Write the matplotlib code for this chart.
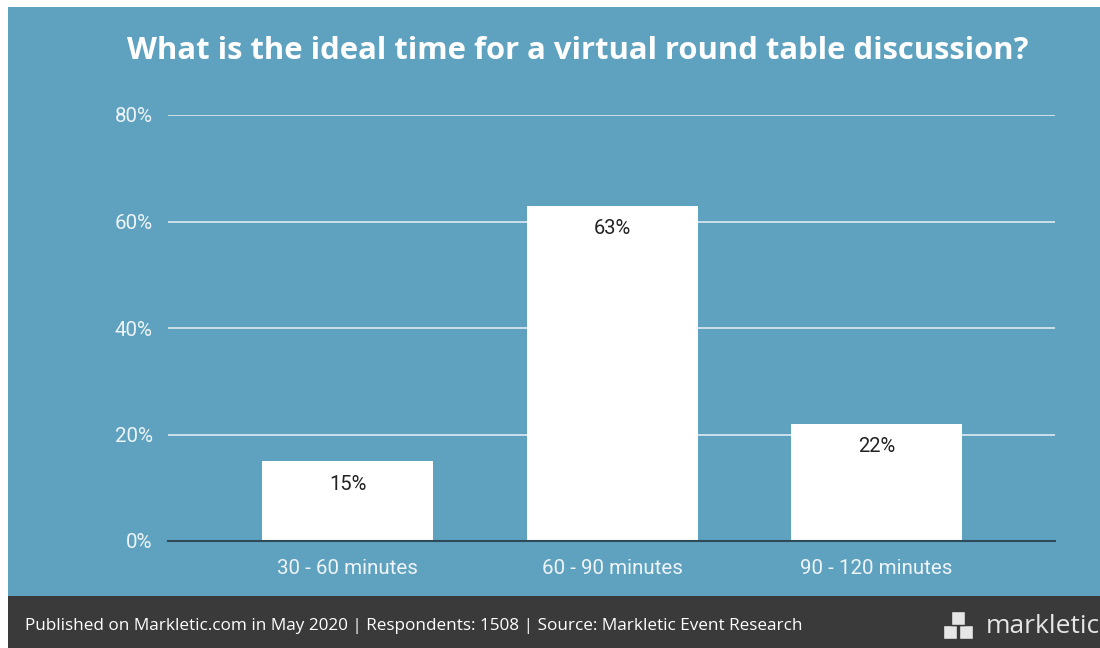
import matplotlib.pyplot as plt
from matplotlib.patches import Rectangle

# chart data
categories = ["30 - 60 minutes", "60 - 90 minutes", "90 - 120 minutes"]
values = [15, 63, 22]
yticks = [0, 20, 40, 60, 80]

title = "What is the ideal time for a virtual round table discussion?"
footer = "Published on Markletic.com in May 2020 | Respondents: 1508 | Source: Markletic Event Research"

bg_blue = "#5fa2c0"
footer_col = "#3a3a3a"

W, H = 1100, 648
fig = plt.figure(figsize=(11, 6.48), dpi=100)
fig.patch.set_facecolor("white")

# blue panel
fig.patches.append(Rectangle((8 / W, 52 / H), 1 - 8 / W, (641 - 52) / H,
                             transform=fig.transFigure, facecolor=bg_blue,
                             edgecolor="none", zorder=-1))

ax = fig.add_axes([168 / W, (H - 541) / H, (1055 - 168) / W, (541 - 115) / H], zorder=2)
ax.set_facecolor("none")
x = range(len(categories))
ax.bar(x, values, width=0.647, color="white", zorder=3)
for i, v in enumerate(values):
    ax.text(i, v - 4.3, f"{v}%", ha="center", va="center", fontsize=14.5,
            color="#222222", family="Roboto", zorder=4)

ax.set_xlim(-0.68, 2.675)
ax.set_ylim(0, 80)
ax.set_yticks(yticks)
ax.set_yticklabels([f"{t}%" for t in yticks])
ax.set_xticks(list(x))
ax.set_xticklabels(categories)
ax.yaxis.grid(True, color="#dce9ef", linewidth=1.2, zorder=0)
ax.set_axisbelow(True)
for s in ["top", "right", "left"]:
    ax.spines[s].set_visible(False)
ax.spines["bottom"].set_color("#2e4a57")
ax.spines["bottom"].set_linewidth(1.5)
ax.spines["bottom"].set_zorder(5)
ax.tick_params(length=0, labelsize=14.8, labelcolor="#eef4f7")
ax.tick_params(axis="y", pad=11)
ax.tick_params(axis="x", pad=13)
for lbl in ax.get_xticklabels() + ax.get_yticklabels():
    lbl.set_family("Roboto")

fig.text(578 / W, 1 - 51 / H, title, ha="center", va="center", fontsize=22.3,
         fontweight="bold", color="white", family="Open Sans")

# footer bar drawn above the axes so it clips the tick labels like the original
fax = fig.add_axes([8 / W, 0, 1 - 8 / W, 52 / H], zorder=10)
fax.set_facecolor(footer_col)
fax.set_xticks([])
fax.set_yticks([])
for s in fax.spines.values():
    s.set_visible(False)
fax.text(17 / (W - 8), 0.42, footer, ha="left", va="center", fontsize=12.3,
         color="white", family="Open Sans", transform=fax.transAxes)
fax.text(1.0, 0.42, "markletic", ha="right", va="center", fontsize=19,
         color="#e6e6e6", family="Open Sans", transform=fax.transAxes)
# small cube logo
for cx, cy in [(950, 632), (966, 632), (958, 618)]:
    fax.add_patch(Rectangle(((cx - 8 - 7) / (W - 8), (H - cy - 7) / 52), 14 / (W - 8), 14 / 52,
                            transform=fax.transAxes, facecolor="#e6e6e6",
                            edgecolor=footer_col, linewidth=1))

fig.savefig("out.png", dpi=100)
